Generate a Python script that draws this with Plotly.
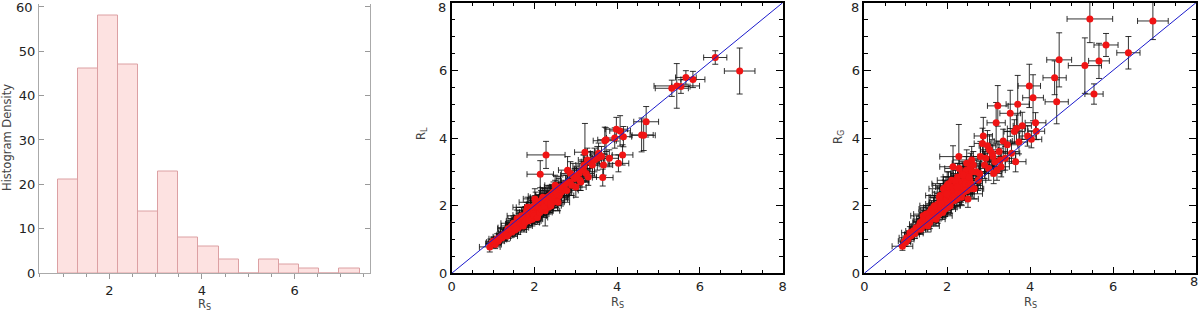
import plotly.graph_objects as go

# ---------------- Histogram of R_S ----------------
HIST_START = 0.88          # left edge of first bin
HIST_WIDTH = 0.435         # bin width
HIST_COUNTS = [21, 46, 58, 47, 14, 23, 8, 6, 3, 0, 3, 2, 1, 0, 1]
HIST_YTICKS = [0, 10, 20, 30, 40, 50, 60]
SC_TICKS = [0, 2, 4, 6, 8]

# ---------------- Scatter data ----------------
RS = [
    6.96, 6.37, 5.83, 5.66, 5.44, 5.32, 5.54, 4.70, 4.59, 4.64,
    3.98, 4.07, 4.13, 4.03, 4.15, 3.94, 3.70, 3.52, 3.81, 3.67,
    3.62, 3.65, 3.73, 3.55, 3.22, 3.18, 3.35, 3.10, 3.25, 3.40,
    3.15, 3.30, 3.08, 3.45, 3.20, 3.12, 3.28, 2.87, 2.85, 2.97,
    2.70, 2.75, 2.90, 2.65, 2.80, 3.00,
    0.92, 0.97, 1.02, 1.05, 1.10, 1.12, 1.18, 1.22, 1.25, 1.28, 1.00, 1.15,
    1.33, 1.35, 1.38, 1.40, 1.43, 1.45, 1.48, 1.50, 1.52, 1.55, 1.57,
    1.60, 1.62, 1.64, 1.66, 1.68, 1.70, 1.72, 1.74, 1.36, 1.46, 1.58,
    1.76, 1.78, 1.80, 1.82, 1.85, 1.87, 1.90, 1.92, 1.94, 1.96, 1.98,
    2.00, 2.02, 2.04, 2.06, 2.08, 2.10, 2.12, 2.14, 2.16, 1.83, 1.89,
    2.01, 2.11, 1.97,
    2.19, 2.21, 2.23, 2.25, 2.28, 2.30, 2.32, 2.34, 2.36, 2.38, 2.40,
    2.42, 2.44, 2.46, 2.48, 2.50, 2.52, 2.54, 2.56, 2.58, 2.60, 2.26,
    2.35, 2.50,
    1.34, 1.42, 1.53, 1.61, 1.69, 1.73, 1.49, 1.56,
    1.77, 1.81, 1.86, 1.91, 1.95, 1.99, 2.03, 2.07, 2.13, 2.17,
    2.20, 2.24, 2.29, 2.33, 2.39, 2.43, 2.47, 2.53, 2.57, 2.59,
    2.63, 2.78, 2.93, 3.02,
]
RS_ERR = [
    0.37, 0.28, 0.29, 0.25, 0.55, 0.40, 0.22, 0.30, 0.28, 0.28,
    0.27, 0.25, 0.25, 0.25, 0.20, 0.20, 0.28, 0.25, 0.22, 0.22,
    0.25, 0.25, 0.20, 0.20, 0.25, 0.22, 0.22, 0.20, 0.20, 0.25,
    0.18, 0.20, 0.22, 0.25, 0.20, 0.20, 0.22, 0.22, 0.20, 0.20,
    0.20, 0.18, 0.25, 0.20, 0.22, 0.25,
    0.25, 0.15, 0.18, 0.15, 0.20, 0.15, 0.18, 0.20, 0.15, 0.20, 0.12, 0.18,
    0.20, 0.18, 0.15, 0.22, 0.18, 0.25, 0.20, 0.18, 0.22, 0.20, 0.25,
    0.18, 0.30, 0.20, 0.22, 0.25, 0.20, 0.25, 0.20, 0.25, 0.20, 0.22,
    0.22, 0.30, 0.20, 0.25, 0.22, 0.28, 0.20, 0.25, 0.30, 0.22, 0.25,
    0.35, 0.22, 0.25, 0.30, 0.22, 0.28, 0.25, 0.32, 0.30, 0.35, 0.20,
    0.28, 0.35, 0.25,
    0.25, 0.30, 0.22, 0.35, 0.46, 0.25, 0.30, 0.22, 0.28, 0.35, 0.25,
    0.30, 0.28, 0.32, 0.25, 0.35, 0.28, 0.30, 0.25, 0.30, 0.35, 0.35,
    0.50, 0.25,
    0.25, 0.30, 0.28, 0.25, 0.35, 0.22, 0.30, 0.20,
    0.35, 0.25, 0.30, 0.35, 0.25, 0.30, 0.40, 0.25, 0.30, 0.28,
    0.30, 0.25, 0.35, 0.28, 0.30, 0.30, 0.35, 0.30, 0.28, 0.45,
    0.25, 0.28, 0.30, 0.22,
]
RL = [
    5.98, 6.38, 5.73, 5.79, 5.54, 5.47, 5.52, 4.48, 4.09, 4.08,
    4.26, 4.21, 3.50, 3.25, 4.04, 4.00, 3.92, 3.40, 3.40, 3.20,
    3.45, 2.83, 3.95, 3.55, 3.58, 3.10, 3.30, 2.75, 2.95, 3.20,
    3.05, 2.85, 2.95, 3.35, 3.20, 2.70, 3.35, 2.95, 2.70, 2.80,
    2.50, 2.65, 2.60, 2.40, 3.05, 2.55,
    0.78, 0.88, 0.92, 0.85, 1.02, 0.95, 1.08, 1.05, 1.15, 1.12, 0.95, 1.00,
    1.20, 1.25, 1.18, 1.30, 1.25, 1.40, 1.30, 1.35, 1.45, 1.38, 1.50,
    1.42, 1.55, 1.45, 1.60, 1.50, 1.65, 1.55, 1.48, 1.32, 1.22, 1.62,
    1.60, 1.72, 1.55, 1.65, 1.78, 1.62, 1.85, 1.70, 1.80, 1.65, 1.90,
    1.75, 2.00, 1.80, 1.95, 1.72, 2.05, 1.85, 2.93, 2.15, 1.95, 1.58,
    2.20, 1.95, 1.75,
    1.95, 2.10, 1.90, 2.20, 3.50, 2.05, 2.25, 1.95, 2.15, 2.30, 2.00,
    2.35, 2.10, 2.40, 2.15, 2.45, 2.20, 2.55, 2.25, 2.40, 2.30, 1.85,
    2.28, 2.60,
    1.10, 1.35, 1.28, 1.35, 1.70, 1.40, 1.48, 1.32,
    1.50, 1.85, 1.55, 1.95, 1.60, 1.70, 2.10, 1.65, 1.80, 1.90,
    2.25, 1.98, 2.15, 2.10, 2.05, 2.25, 2.30, 2.35, 2.10, 2.50,
    2.55, 2.45, 2.90, 2.85,
]
RL_ERR = [
    0.68, 0.20, 0.24, 0.20, 0.66, 0.24, 0.20, 0.45, 0.50, 0.45,
    0.35, 0.45, 0.30, 0.25, 0.30, 0.30, 0.40, 0.35, 0.25, 0.30,
    0.30, 0.25, 0.35, 0.30, 0.85, 0.40, 0.30, 0.30, 0.25, 0.30,
    0.25, 0.25, 0.30, 0.35, 0.30, 0.25, 0.35, 0.35, 0.30, 0.30,
    0.25, 0.25, 0.30, 0.30, 0.40, 0.30,
    0.15, 0.12, 0.15, 0.12, 0.15, 0.12, 0.15, 0.15, 0.15, 0.15, 0.12, 0.12,
    0.15, 0.18, 0.15, 0.18, 0.15, 0.20, 0.15, 0.18, 0.20, 0.18, 0.20,
    0.15, 0.22, 0.18, 0.20, 0.18, 0.22, 0.20, 0.18, 0.20, 0.15, 0.25,
    0.20, 0.25, 0.18, 0.20, 0.22, 0.20, 0.25, 0.20, 0.22, 0.18, 0.25,
    0.22, 0.30, 0.20, 0.25, 0.20, 0.28, 0.22, 0.40, 0.30, 0.30, 0.18,
    0.30, 0.30, 0.22,
    0.22, 0.25, 0.20, 0.30, 0.40, 0.25, 0.28, 0.20, 0.25, 0.30, 0.22,
    0.28, 0.25, 0.30, 0.22, 0.30, 0.25, 0.32, 0.22, 0.28, 0.30, 0.45,
    0.30, 0.30,
    0.15, 0.20, 0.18, 0.20, 0.25, 0.18, 0.22, 0.15,
    0.20, 0.25, 0.20, 0.28, 0.20, 0.25, 0.30, 0.20, 0.25, 0.22,
    0.28, 0.22, 0.28, 0.25, 0.25, 0.25, 0.28, 0.28, 0.25, 0.30,
    0.30, 0.28, 0.35, 0.30,
]
RG = [
    7.46, 6.52, 6.75, 6.28, 7.52, 6.14, 5.30, 6.31, 5.78, 5.07,
    5.54, 5.19, 4.45, 3.96, 4.20, 4.06, 5.00, 4.73, 4.36, 4.28,
    4.19, 3.30, 3.88, 3.55, 4.95, 4.45, 3.91, 3.45, 3.60, 3.40,
    3.30, 3.15, 3.55, 3.80, 3.05, 2.95, 3.35, 4.06, 3.84, 3.77,
    3.00, 2.75, 3.20, 2.50, 3.45, 3.10,
    0.80, 0.95, 1.05, 1.00, 1.20, 1.10, 1.25, 1.18, 1.35, 1.30, 0.92, 1.15,
    1.40, 1.50, 1.35, 1.55, 1.45, 1.60, 1.50, 1.65, 1.55, 1.70, 1.80,
    1.58, 1.90, 1.75, 1.65, 1.95, 1.80, 1.70, 1.85, 1.30, 1.62, 1.50,
    1.90, 2.05, 1.75, 2.10, 1.95, 2.25, 1.85, 2.15, 2.40, 2.00, 2.20,
    2.60, 1.95, 2.30, 2.50, 2.10, 2.35, 2.20, 3.15, 2.45, 2.30, 1.80,
    2.00, 2.75, 2.55,
    2.30, 2.60, 2.20, 2.85, 3.45, 2.45, 2.70, 2.25, 2.95, 2.55, 2.40,
    2.80, 2.65, 3.05, 2.45, 2.90, 2.60, 2.75, 3.15, 2.50, 3.00, 2.40,
    2.35, 2.20,
    1.45, 1.70, 1.40, 1.85, 2.00, 1.60, 1.75, 1.62,
    1.70, 2.25, 2.05, 2.50, 1.90, 2.35, 2.65, 2.00, 2.55, 2.15,
    2.70, 2.55, 3.10, 2.35, 2.90, 2.45, 3.25, 2.85, 2.65, 3.35,
    3.20, 2.95, 3.40, 3.65,
]
RG_ERR = [
    0.55, 0.48, 0.34, 0.52, 0.70, 0.82, 0.30, 0.80, 0.50, 0.65,
    0.64, 0.68, 0.30, 0.25, 0.25, 0.30, 0.85, 0.68, 0.40, 0.40,
    0.35, 0.30, 0.35, 0.30, 0.60, 0.60, 0.35, 0.35, 0.30, 0.35,
    0.30, 0.30, 0.40, 0.40, 0.30, 0.30, 0.35, 0.55, 0.45, 0.45,
    0.35, 0.30, 0.40, 0.30, 0.45, 0.35,
    0.12, 0.15, 0.15, 0.12, 0.18, 0.15, 0.15, 0.15, 0.18, 0.15, 0.12, 0.15,
    0.20, 0.20, 0.15, 0.22, 0.18, 0.25, 0.18, 0.20, 0.20, 0.22, 0.25,
    0.18, 0.25, 0.20, 0.20, 0.28, 0.22, 0.20, 0.22, 0.15, 0.20, 0.18,
    0.25, 0.30, 0.20, 0.28, 0.22, 0.30, 0.20, 0.25, 0.35, 0.22, 0.25,
    0.40, 0.20, 0.28, 0.35, 0.22, 0.30, 0.25, 0.62, 0.30, 0.35, 0.20,
    0.25, 0.40, 0.30,
    0.25, 0.30, 0.22, 0.40, 0.95, 0.28, 0.32, 0.22, 0.35, 0.30, 0.25,
    0.35, 0.30, 0.40, 0.25, 0.35, 0.28, 0.30, 0.40, 0.25, 0.35, 0.30,
    0.35, 0.25,
    0.22, 0.25, 0.18, 0.25, 0.30, 0.20, 0.25, 0.18,
    0.22, 0.30, 0.25, 0.35, 0.22, 0.30, 0.35, 0.22, 0.30, 0.25,
    0.35, 0.28, 0.40, 0.25, 0.35, 0.28, 0.40, 0.32, 0.30, 0.40,
    0.40, 0.35, 0.40, 0.45,
]

ONE_TO_ONE = [0, 8]

# ---------------- Styling ----------------
W, H = 1200, 317
FONT = "DejaVu Sans"
ERR_COLOR = "rgba(15,15,15,0.85)"
PT_COLOR = "#f01414"
LINE_COLOR = "#1a1acc"


def px_x(p):
    return p / W


def px_y(p):
    return 1 - p / H


fig = go.Figure()

# Histogram bars
centers = [HIST_START + HIST_WIDTH * (i + 0.5) for i in range(len(HIST_COUNTS))]
fig.add_trace(go.Bar(
    x=centers, y=HIST_COUNTS, width=HIST_WIDTH,
    marker=dict(color="#fde2e1", line=dict(color="#dca0a3", width=1)),
    xaxis="x", yaxis="y", showlegend=False, hoverinfo="skip",
))

# Scatter panels
for xa, ya, yv, ye in (("x2", "y2", RL, RL_ERR), ("x3", "y3", RG, RG_ERR)):
    fig.add_trace(go.Scatter(
        x=RS, y=yv, mode="markers",
        marker=dict(color=PT_COLOR, size=7, line=dict(width=0)),
        error_x=dict(type="data", array=RS_ERR, color=ERR_COLOR, thickness=1, width=3),
        error_y=dict(type="data", array=ye, color=ERR_COLOR, thickness=1, width=3),
        xaxis=xa, yaxis=ya, showlegend=False, hoverinfo="skip",
    ))
    fig.add_trace(go.Scatter(
        x=ONE_TO_ONE, y=ONE_TO_ONE, mode="lines",
        line=dict(color=LINE_COLOR, width=1),
        xaxis=xa, yaxis=ya, showlegend=False, hoverinfo="skip",
    ))

tickfont = dict(family=FONT, size=13, color="#222")

hist_x = dict(
    domain=[px_x(39), px_x(370)], range=[0.48, 7.63], anchor="y",
    tick0=0, dtick=2, ticks="outside", ticklen=5, tickcolor="#999", tickwidth=1,
    minor=dict(tick0=0, dtick=0.5, ticks="outside", ticklen=3, tickcolor="#999"),
    showline=True, linecolor="#aaa", linewidth=1, mirror=False,
    showgrid=False, zeroline=False, tickfont=tickfont, automargin=False,
)
hist_y = dict(
    domain=[px_y(273.3), px_y(3.5)], range=[0, 60.7], anchor="x",
    tickmode="array", tickvals=HIST_YTICKS,
    ticktext=[str(v) for v in HIST_YTICKS[:-1]] + [""],
    ticks="inside", ticklen=5, tickcolor="#999", tickwidth=1,
    showline=True, linecolor="#aaa", linewidth=1, mirror="ticks",
    showgrid=False, zeroline=False, tickfont=tickfont, automargin=False,
)


def sc_axis(domain, anchor, hide_last):
    labels = [str(v) for v in SC_TICKS]
    if hide_last:
        labels[-1] = ""
    return dict(
        domain=domain, range=[0, 8], anchor=anchor,
        tickmode="array", tickvals=SC_TICKS, ticktext=labels,
        ticks="inside", ticklen=7, tickcolor="black", tickwidth=1,
        minor=dict(tick0=0, dtick=0.5, ticks="inside", ticklen=4, tickcolor="black"),
        showline=True, linecolor="black", linewidth=1.5, mirror="ticks",
        showgrid=False, zeroline=False, tickfont=tickfont, automargin=False,
    )


fig.update_layout(
    template="none",
    width=W, height=H,
    margin=dict(l=0, r=0, t=0, b=0, pad=0),
    paper_bgcolor="white", plot_bgcolor="white",
    bargap=0,
    xaxis=hist_x, yaxis=hist_y,
    xaxis2=sc_axis([px_x(451.7), px_x(782.7)], "y2", False),
    yaxis2=sc_axis([px_y(273.3), px_y(2.7)], "x2", True),
    xaxis3=sc_axis([px_x(864.3), px_x(1196)], "y3", True),
    yaxis3=sc_axis([px_y(273.3), px_y(2.7)], "x3", True),
)

# top / right-most tick labels placed inside the page (as in the reference)
edge_labels = [
    dict(text=str(HIST_YTICKS[-1]), x=px_x(34), y=px_y(7.5), xanchor="right"),
    dict(text=str(SC_TICKS[-1]), x=px_x(447), y=px_y(7.5), xanchor="right"),
    dict(text=str(SC_TICKS[-1]), x=px_x(860), y=px_y(7.8), xanchor="right"),
    dict(text=str(SC_TICKS[-1]), x=px_x(1199), y=px_y(281), xanchor="right"),
]
for a in edge_labels:
    fig.add_annotation(xref="paper", yref="paper", showarrow=False, yanchor="middle",
                       font=tickfont, borderpad=0, **a)

title_font = dict(family=FONT, size=11.5, color="#444")
ann = [
    dict(text="Histogram Density", x=px_x(7), y=px_y(138), textangle=-90),
    dict(text="R<sub>S</sub>", x=px_x(204), y=px_y(304), textangle=0),
    dict(text="R<sub>S</sub>", x=px_x(617), y=px_y(302), textangle=0),
    dict(text="R<sub>S</sub>", x=px_x(1030), y=px_y(302), textangle=0),
    dict(text="R<sub>L</sub>", x=px_x(421), y=px_y(134), textangle=-90),
    dict(text="R<sub>G</sub>", x=px_x(838), y=px_y(137), textangle=-90),
]
for a in ann:
    fig.add_annotation(xref="paper", yref="paper", showarrow=False,
                       xanchor="center", yanchor="middle", font=title_font, **a)

fig.write_html(
    "out.html",
    config={"displayModeBar": False},
    post_script="document.body.style.margin='0';document.body.style.overflow='hidden';",
)
